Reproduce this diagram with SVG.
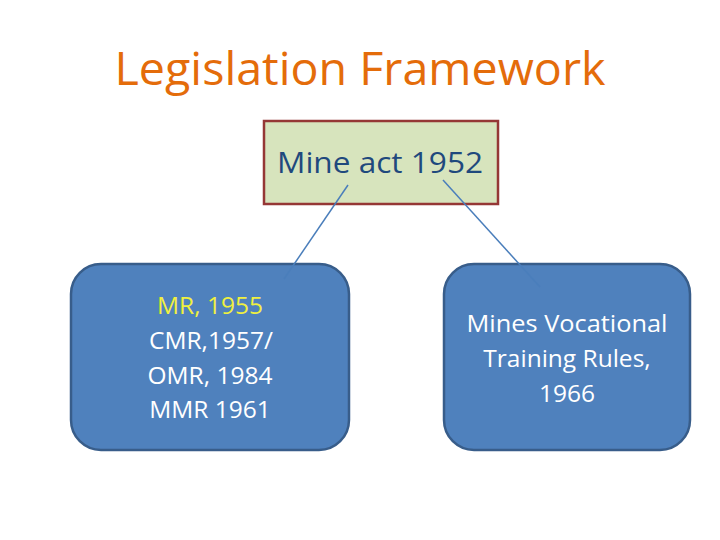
<svg xmlns="http://www.w3.org/2000/svg" width="720" height="540" viewBox="0 0 720 540">
<style>
text{font-family:"Open Sans","Noto Sans","Liberation Sans",sans-serif;text-anchor:middle}
.box{fill:#4F81BD;stroke:#385D8A;stroke-width:2.5}
.w{fill:#FFFFFF;font-size:24.5px}
.conn{stroke:#4A7EBB;stroke-width:1.5;fill:none}
</style>
<rect width="720" height="540" fill="#FFFFFF"/>
<text id="title" x="360" y="85" font-size="46" fill="#E46C0A" textLength="491" lengthAdjust="spacingAndGlyphs">Legislation Framework</text>
<g id="root">
<rect x="264" y="121" width="234" height="83" fill="#D7E4BD" stroke="#953735" stroke-width="2.5"/>
<text x="380" y="173" font-size="30" fill="#1F497D" textLength="206" lengthAdjust="spacingAndGlyphs">Mine act 1952</text>
</g>
<g id="left">
<rect class="box" x="71" y="264" width="278" height="186" rx="30" ry="30"/>
<text class="w" x="210" y="314" style="fill:#F0F040">MR, 1955</text>
<text class="w" x="211" y="349">CMR,1957/</text>
<text class="w" x="210" y="384">OMR, 1984</text>
<text class="w" x="210" y="418">MMR 1961</text>
</g>
<g id="right">
<rect class="box" x="444" y="264" width="246" height="186" rx="30" ry="30"/>
<text class="w" x="567" y="332" textLength="201" lengthAdjust="spacingAndGlyphs">Mines Vocational</text>
<text class="w" x="567" y="367">Training Rules,</text>
<text class="w" x="567" y="402">1966</text>
</g>
<g id="connectors">
<line class="conn" x1="348" y1="185" x2="284" y2="279"/>
<line class="conn" x1="443" y1="180" x2="540" y2="287"/>
</g>
</svg>
